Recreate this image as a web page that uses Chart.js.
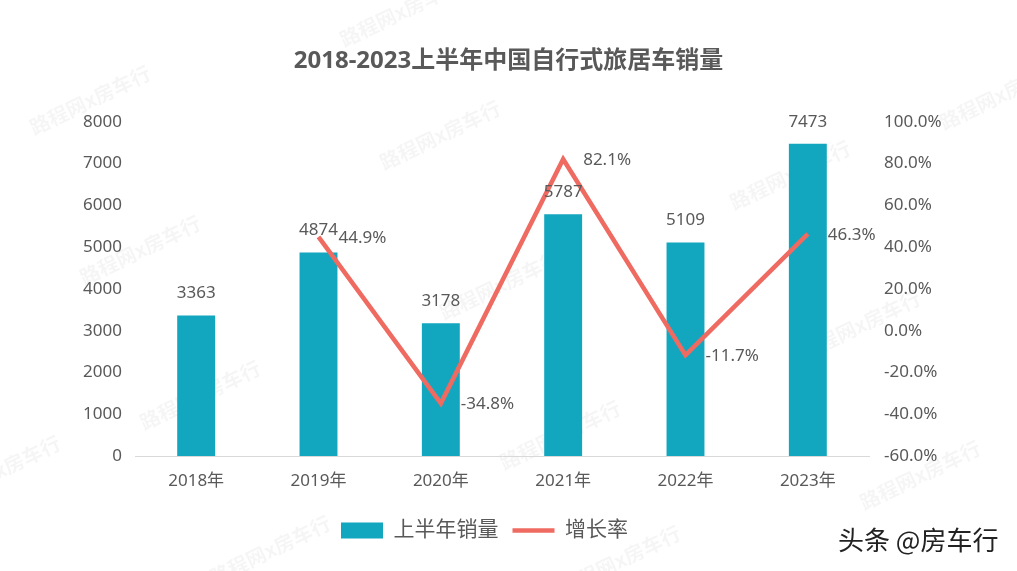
<!DOCTYPE html>
<html>
<head>
<meta charset="utf-8">
<script src="https://cdn.jsdelivr.net/npm/chart.js@4.4.0/dist/chart.umd.min.js"></script>
<style>
  html, body { margin: 0; padding: 0; background: #fff; }
  #wrap { position: relative; width: 1017px; height: 571px; }
  #credit {
    position: absolute; left: 838px; top: 521px;
    font-family: "Noto Sans CJK SC", sans-serif; font-size: 26px; line-height: 36px; color: #222;
    text-shadow: 1px 1px 0 #fff, -1px -1px 0 #fff;
  }
</style>
</head>
<body>
<div id="wrap">
  <canvas id="c" width="1017" height="571"></canvas>
  <div id="credit">头条 @房车行</div>
</div>
<script>
// 数据
var years = ['2018年', '2019年', '2020年', '2021年', '2022年', '2023年'];
var sales = [3363, 4874, 3178, 5787, 5109, 7473];
var growth = [null, 44.9, -34.8, 82.1, -11.7, 46.3];

var FONT = '"Noto Sans", "Noto Sans CJK SC", sans-serif';
var TEXT = '#595959';
var BAR = '#12A6BF';
var LINE = '#EF6B61';

// 水印
var watermark = {
  id: 'watermark',
  beforeDraw: function(chart) {
    var ctx = chart.ctx;
    var spots = [[90, 100], [440, 135], [790, 175], [140, 250], [500, 285], [860, 325],
                 [200, 395], [560, 435], [920, 475], [400, 12], [1000, 95], [270, 550], [620, 560], [0, 470]];
    ctx.save();
    ctx.font = 'bold 20px "Noto Sans CJK SC"';
    ctx.fillStyle = 'rgba(0,0,0,0.04)';
    ctx.textAlign = 'center';
    ctx.textBaseline = 'middle';
    spots.forEach(function(p) {
      ctx.save();
      ctx.translate(p[0], p[1]);
      ctx.rotate(-0.45);
      ctx.fillText('路程网x房车行', 0, 0);
      ctx.restore();
    });
    ctx.restore();
  }
};

// 图例稍微左移
var legendShift = {
  id: 'legendShift',
  afterLayout: function(chart) {
    if (chart.legend) {
      chart.legend.left -= 24;
      chart.legend.right -= 24;
    }
  }
};

// 数据标签
var valueLabels = {
  id: 'valueLabels',
  afterDatasetsDraw: function(chart) {
    var ctx = chart.ctx;
    ctx.save();
    ctx.font = '17px ' + FONT;
    ctx.fillStyle = TEXT;
    ctx.textBaseline = 'middle';
    var barMeta = chart.getDatasetMeta(0);
    ctx.textAlign = 'center';
    barMeta.data.forEach(function(el, i) {
      ctx.fillText(String(sales[i]), el.x, el.y - 22);
    });
    var lineMeta = chart.getDatasetMeta(1);
    ctx.textAlign = 'left';
    lineMeta.data.forEach(function(el, i) {
      if (growth[i] === null) return;
      ctx.fillText(growth[i].toFixed(1) + '%', el.x + 20, el.y + 1);
    });
    ctx.restore();
  }
};

new Chart(document.getElementById('c').getContext('2d'), {
  type: 'bar',
  data: {
    labels: years,
    datasets: [
      {
        type: 'bar',
        label: '上半年销量',
        data: sales,
        backgroundColor: BAR,
        barPercentage: 0.31,
        categoryPercentage: 1,
        yAxisID: 'y',
        pointStyle: 'rect',
        order: 2
      },
      {
        type: 'line',
        label: '增长率',
        data: growth,
        borderColor: LINE,
        backgroundColor: LINE,
        borderWidth: 4.5,
        pointRadius: 0,
        tension: 0,
        yAxisID: 'y1',
        pointStyle: 'line',
        order: 1
      }
    ]
  },
  plugins: [watermark, legendShift, valueLabels],
  options: {
    responsive: false,
    animation: false,
    layout: { padding: { left: 0, right: 0, top: 0, bottom: 20 } },
    plugins: {
      title: {
        display: true,
        text: '2018-2023上半年中国自行式旅居车销量',
        color: TEXT,
        font: { family: FONT, size: 24, weight: 'bold' },
        padding: { top: 47, bottom: 46 }
      },
      legend: {
        position: 'bottom',
        labels: {
          color: TEXT,
          font: { family: FONT, size: 21 },
          usePointStyle: true,
          pointStyleWidth: 42,
          boxHeight: 16,
          padding: 14,
          sort: function(a, b) { return a.datasetIndex - b.datasetIndex; }
        }
      },
      tooltip: { enabled: false }
    },
    scales: {
      x: {
        grid: { display: false, drawTicks: false },
        border: { display: true, color: '#D9D9D9', width: 1 },
        ticks: { color: TEXT, font: { family: FONT, size: 17 }, padding: 15 },
        afterFit: function(s) { s.height = 50; }
      },
      y: {
        position: 'left',
        min: 0, max: 8000,
        ticks: {
          stepSize: 1000, color: TEXT, font: { family: FONT, size: 17 }, padding: 13,
          callback: function(v) { return String(v); }
        },
        grid: { display: false, drawTicks: false },
        border: { display: false },
        afterFit: function(s) { s.width = 135; }
      },
      y1: {
        position: 'right',
        min: -60, max: 100,
        ticks: {
          stepSize: 20, color: TEXT, font: { family: FONT, size: 17 }, padding: 15,
          callback: function(v) { return v.toFixed(1) + '%'; }
        },
        grid: { display: false, drawTicks: false },
        border: { display: false },
        afterFit: function(s) { s.width = 148; }
      }
    }
  }
});
</script>
</body>
</html>
